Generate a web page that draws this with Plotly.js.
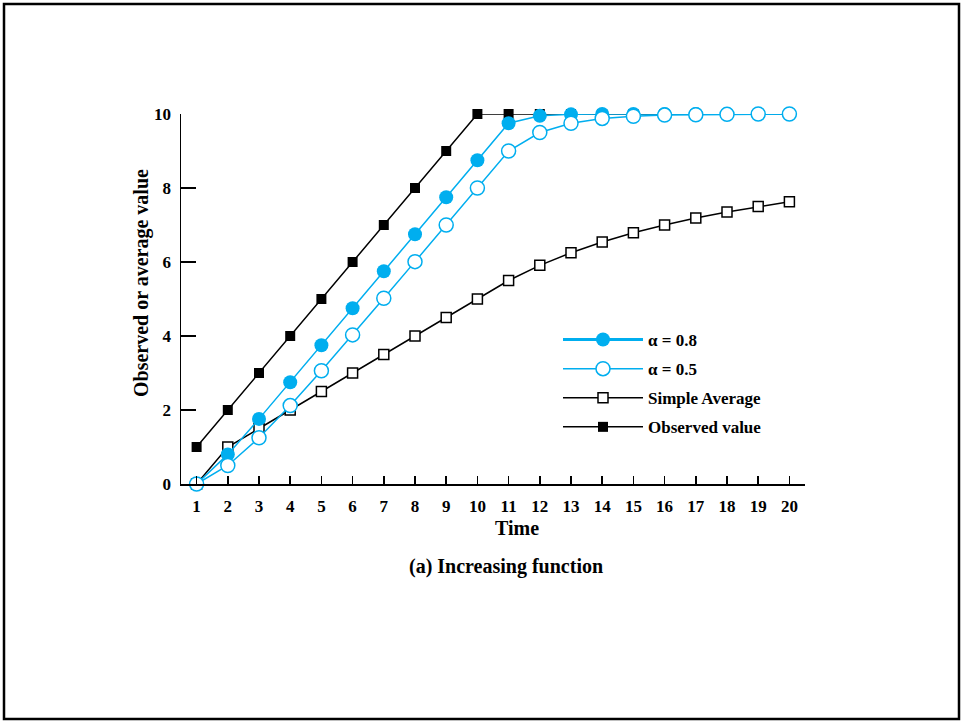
<!DOCTYPE html>
<html>
<head>
<meta charset="utf-8">
<script src="https://cdn.plot.ly/plotly-3.0.1.min.js"></script>
<style>
html,body{margin:0;padding:0;background:#fff;}
#chart{width:961px;height:721px;}
</style>
</head>
<body>
<div id="chart"></div>
<script>
var time = [1,2,3,4,5,6,7,8,9,10,11,12,13,14,15,16,17,18,19,20];
var observed = [1,2,3,4,5,6,7,8,9,10,10,10,10,10,10,10,10,10,10,10];
var simpleAverage = [0,1,1.5,2,2.5,3,3.5,4,4.5,5,5.5,5.91,6.25,6.54,6.79,7,7.19,7.35,7.5,7.63];
var alpha08 = [0,0.8,1.76,2.75,3.75,4.75,5.75,6.75,7.75,8.75,9.75,9.95,9.99,10,10,10,10,10,10,10];
var alpha05 = [0,0.5,1.25,2.12,3.06,4.03,5.02,6.01,7,8,9,9.5,9.75,9.88,9.94,9.97,9.98,9.99,10,10];
var seriesNames = ['\u03b1 = 0.8', '\u03b1 = 0.5', 'Simple Average', 'Observed value'];
var xTicks = time;
var yTicks = [0,2,4,6,8,10];

var cyan = '#00aeef';
var font = 'Liberation Serif, Times New Roman, serif';

var traces = [
  {x: time, y: observed, mode: 'lines+markers', name: seriesNames[3], legendrank: 4, legendgroup: 'd',
   line: {color: '#000', width: 1.5},
   marker: {symbol: 'square', size: 10, color: '#000'}, cliponaxis: false},
  {x: time, y: simpleAverage, mode: 'lines+markers', name: seriesNames[2], legendrank: 3, legendgroup: 'c',
   line: {color: '#000', width: 1.5},
   marker: {symbol: 'square', size: 10, color: '#fff', line: {color: '#000', width: 1.5}}, cliponaxis: false},
  {x: time, y: alpha08, mode: 'lines+markers', name: seriesNames[0], showlegend: false,
   line: {color: cyan, width: 1.5},
   marker: {symbol: 'circle', size: 14, color: cyan}, cliponaxis: false},
  {x: [null], y: [null], mode: 'lines+markers', name: seriesNames[0], legendrank: 1, legendgroup: 'a',
   line: {color: cyan, width: 3},
   marker: {symbol: 'circle', size: 14, color: cyan}},
  {x: time, y: alpha05, mode: 'lines+markers', name: seriesNames[1], legendrank: 2, legendgroup: 'b',
   line: {color: cyan, width: 1.5},
   marker: {symbol: 'circle', size: 14, color: '#fff', line: {color: cyan, width: 1.5}}, cliponaxis: false}
];

var layout = {
  width: 961, height: 721,
  margin: {l: 181, r: 156, t: 114, b: 237},
  paper_bgcolor: '#fff', plot_bgcolor: '#fff',
  font: {family: font, size: 17, color: '#000', weight: 'bold'},
  showlegend: true,
  legend: {x: (558 - 181) / 624, y: (484 - 322) / 370, xanchor: 'left', yanchor: 'top', bgcolor: 'rgba(0,0,0,0)',
           itemwidth: 80, traceorder: 'grouped', tracegroupgap: 4,
           font: {family: font, size: 17, color: '#000', weight: 'bold'}},
  xaxis: {range: [0.5, 20.5], tickvals: xTicks, ticktext: xTicks.map(String),
          ticks: 'inside', ticklen: 8, tickwidth: 1.5, tickcolor: '#000',
          showline: true, linecolor: '#000', linewidth: 1.5, showgrid: false, zeroline: false,
          tickfont: {family: font, size: 17, color: '#000', weight: 'bold'}, ticklabelstandoff: 6},
  yaxis: {range: [0, 10], tickvals: yTicks, ticktext: yTicks.map(String),
          ticks: 'inside', ticklen: 15, tickwidth: 1.5, tickcolor: '#000',
          showline: true, linecolor: '#000', linewidth: 1.5, showgrid: false, zeroline: false,
          tickfont: {family: font, size: 17, color: '#000', weight: 'bold'}, ticklabelstandoff: 5},
  annotations: [
    {text: 'Time', xref: 'paper', yref: 'paper', x: (517 - 181) / 624, y: (484 - 528) / 370,
     xanchor: 'center', yanchor: 'middle', showarrow: false,
     font: {family: font, size: 20, color: '#000', weight: 'bold'}},
    {text: 'Observed or average value', xref: 'paper', yref: 'paper', x: (141 - 181) / 624, y: (484 - 283) / 370,
     xanchor: 'center', yanchor: 'middle', showarrow: false, textangle: -90,
     font: {family: font, size: 20, color: '#000', weight: 'bold'}},
    {text: '(a) Increasing function', xref: 'paper', yref: 'paper', x: (506 - 181) / 624, y: (484 - 566) / 370,
     xanchor: 'center', yanchor: 'middle', showarrow: false,
     font: {family: font, size: 20, color: '#000', weight: 'bold'}}
  ],
  shapes: [
    {type: 'rect', xref: 'paper', yref: 'paper',
     x0: (4 - 181) / 624, x1: (959 - 181) / 624, y0: (484 - 719) / 370, y1: (484 - 4) / 370,
     line: {color: '#000', width: 2.5}, fillcolor: 'rgba(0,0,0,0)', layer: 'below'}
  ]
};

Plotly.newPlot('chart', traces, layout, {staticPlot: true, displayModeBar: false});
</script>
</body>
</html>
